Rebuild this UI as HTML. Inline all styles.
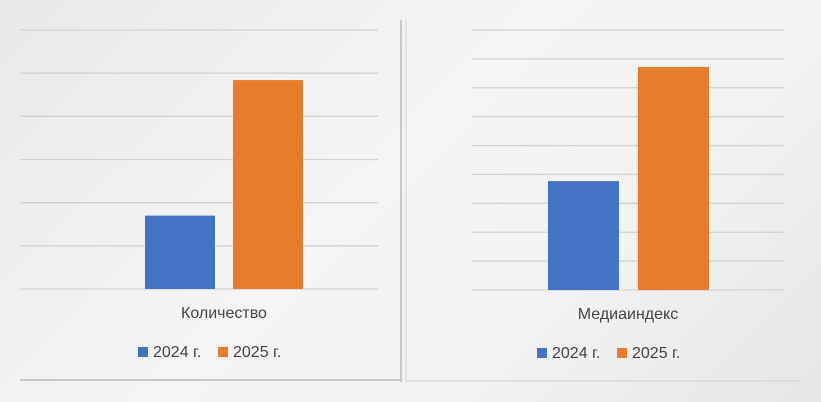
<!DOCTYPE html>
<html><head><meta charset="utf-8">
<style>
html,body{margin:0;padding:0;}
body{width:821px;height:402px;overflow:hidden;background:linear-gradient(135deg,#e9e9e9 0%,#f5f5f5 45%,#f2f2f2 70%,#e6e6e6 100%);font-family:"Liberation Sans",sans-serif;}
svg{display:block;}
svg text{font-family:"Liberation Sans","Noto Sans CJK SC",sans-serif;fill:#444;}
</style></head>
<body>
<svg id="chart" width="821" height="402">
  <line x1="401" y1="20" x2="401" y2="382" stroke="#c8c8c8" stroke-width="2"/>
  <line x1="406" y1="20" x2="406" y2="382" stroke="#d4d4d4" stroke-width="1"/>
  <line x1="20" y1="380" x2="400" y2="380" stroke="#c8c8c8" stroke-width="2"/>
  <line x1="407" y1="381" x2="800" y2="381" stroke="#d0d0d0" stroke-width="1"/>
</svg>
<script>
const categories1 = ["Количество"];
const values2024a = [1.7];
const values2025a = [4.84];
const categories2 = ["Медиаиндекс"];
const values2024b = [3.77];
const values2025b = [7.72];
const seriesNames = ["2024 г.", "2025 г."];
const colors = ["#4472c4", "#e87c2e"];

const svg = document.getElementById('chart');
const NS = 'http://www.w3.org/2000/svg';
function mk(tag, attrs){const e=document.createElementNS(NS,tag);for(const k in attrs)e.setAttribute(k,attrs[k]);svg.appendChild(e);return e;}

function drawPanel(cfg, cat, v1, v2, prefix){
  const y = v => cfg.bottom - (v/cfg.max)*(cfg.bottom-cfg.top);
  for(let i=0;i<=cfg.max;i++){
    const l=mk('line',{x1:cfg.x0,x2:cfg.x1,y1:y(i),y2:y(i),stroke:'#d2d2d2','stroke-width':1.3});
    
    
  }
  const vals=[v1[0],v2[0]];
  vals.forEach((v,i)=>{
    const r=mk('rect',{x:cfg.barX[i],y:y(v),width:cfg.barW,height:cfg.bottom-y(v),fill:colors[i]});
    
    
  });
  const t=mk('text',{x:cfg.labelX,y:cfg.labelY,'text-anchor':'middle','font-size':16});
  t.textContent=cat[0];
  
  
  seriesNames.forEach((n,i)=>{
    const sx=cfg.legX+i*80;
    const s=mk('rect',{x:sx,y:cfg.legY-10,width:10,height:10,fill:colors[i]});
    
    
    const lt=mk('text',{x:sx+15,y:cfg.legY,'font-size':16});
    lt.textContent=n;
    
    
  });
}
drawPanel({x0:20,x1:378,top:30,bottom:289,max:6,barX:[145,233],barW:70,labelX:224,labelY:318,legX:138,legY:357},categories1,values2024a,values2025a,'left');
drawPanel({x0:472,x1:784,top:30,bottom:290,max:9,barX:[548,638],barW:71,labelX:628,labelY:319,legX:537,legY:358},categories2,values2024b,values2025b,'right');
</script>
</body></html>
